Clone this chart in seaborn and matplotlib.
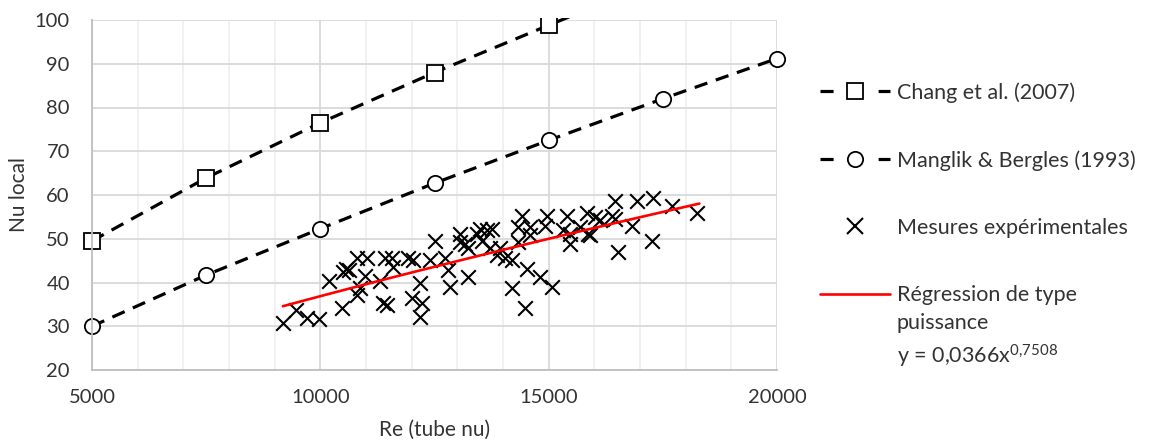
import numpy as np
import matplotlib
matplotlib.use("Agg")
import matplotlib.pyplot as plt
import seaborn as sns
from matplotlib.lines import Line2D
from matplotlib.patches import Rectangle
from matplotlib.ticker import MultipleLocator

# ---------------- data ----------------
chang_re = [5000, 7500, 10000, 12500, 15000, 17500, 20000]
chang_nu = [49.5, 63.9, 76.5, 88.0, 98.8, 109.5, 120.0]

manglik_re = [5000, 7500, 10000, 12500, 15000, 17500, 20000]
manglik_nu = [30.0, 41.7, 52.3, 62.7, 72.5, 82.0, 91.2]

re_exp = [9180, 9470, 9710, 9970, 10190, 10475, 10500, 10560, 10630, 10800,
          11020, 10800, 10870, 10980, 11310, 11370, 11460, 11420, 11570, 11590,
          11920, 12030, 12010, 12180, 12230, 12180, 12400, 12510, 12730, 12800,
          12840, 13060, 13060, 13170, 13230, 13230, 13430, 13540, 13650, 13500,
          13720, 13870, 13760, 14420, 14960, 15400, 15840, 16020, 14330, 14590,
          14920, 15310, 15470, 15690, 15860, 16130, 14330, 14590, 15470, 13940,
          14050, 14200, 14530, 14810, 15070, 14200, 14480, 16450, 16940, 17290,
          17700, 18250, 16390, 16450, 16830, 17260, 16520, 15910]
nu_exp = [30.7, 33.7, 31.8, 31.6, 40.3, 34.1, 42.3, 43.2, 42.8, 45.5,
          45.7, 37.1, 38.7, 41.4, 40.3, 35.3, 34.8, 45.7, 45.7, 43.5,
          45.5, 45.1, 36.4, 39.8, 35.3, 32.1, 45.1, 49.6, 45.7, 42.8,
          38.9, 51.2, 49.2, 48.9, 47.8, 41.2, 51.2, 49.6, 51.9, 52.3,
          47.8, 46.2, 52.3, 55.3, 55.3, 55.3, 55.8, 54.9, 52.6, 52.6,
          53.0, 51.9, 51.2, 52.6, 51.2, 54.2, 49.2, 50.8, 48.9, 48.0,
          45.7, 45.1, 43.2, 41.2, 38.9, 38.7, 34.1, 58.7, 58.7, 59.4,
          57.6, 55.8, 55.3, 54.6, 53.0, 49.6, 46.9, 50.8]

# power-law trend line as printed on the chart: y = 0.0366 x^0.7508
reg_coef = 0.0366
reg_exp = 0.7508
reg_range = [9180, 18300]

labels = ["Chang et al. (2007)", "Manglik & Bergles (1993)",
          "Mesures expérimentales", "Régression de type"]
reg_extra = "puissance\ny = 0,0366x$^{0{,}7508}$"

x_ticks = [5000, 10000, 15000, 20000]
y_ticks = [20, 30, 40, 50, 60, 70, 80, 90, 100]

# ---------------- style ----------------
sns.set_theme(style="white")
plt.rcParams["font.family"] = ["Lato", "DejaVu Sans"]
plt.rcParams["mathtext.default"] = "regular"
TXT = "#333333"
FS_TICK = 14.5
FS_LAB = 15
FS_LEG = 15.5

W, H = 1149, 443
fig = plt.figure(figsize=(W / 100, H / 100), dpi=100)
L, R, T, B = 92, 777, 20, 370
ax = fig.add_axes([L / W, 1 - B / H, (R - L) / W, (B - T) / H])

# clip only at the top/bottom so edge markers are not cut at the left/right
clip_rect = Rectangle((-0.05, -0.05), 1.10, 1.056, transform=ax.transAxes,
                      facecolor="none", edgecolor="none")

dash = (0, (4.2, 2.8))
for xs, ys, mk in [(chang_re, chang_nu, "s"), (manglik_re, manglik_nu, "o")]:
    sns.lineplot(x=xs, y=ys, ax=ax, color="black", lw=2.3,
                 linestyle=dash, marker=mk, markersize=11,
                 markerfacecolor="white", markeredgecolor="black",
                 markeredgewidth=1.3, sort=False)
for ln in ax.get_lines():
    ln.set_clip_path(clip_rect)

sns.scatterplot(x=re_exp, y=nu_exp, ax=ax, marker="x", s=110,
                color="black", linewidth=1.5, zorder=3)
reg_x = np.linspace(reg_range[0], reg_range[1], 50)
reg_y = reg_coef * reg_x ** reg_exp
sns.lineplot(x=reg_x, y=reg_y, ax=ax, color="#ff0000", lw=1.9, zorder=4)

ax.set_xlim(5000, 20000)
ax.set_ylim(20, 100)
ax.set_xticks(x_ticks)
ax.set_yticks(y_ticks)
ax.xaxis.set_minor_locator(MultipleLocator(1000))
ax.set_axisbelow(True)
ax.grid(which="minor", axis="x", color="#f0f0f0", lw=1.3)
ax.grid(which="major", axis="both", color="#d9d9d9", lw=1.3)
for s in ["top", "right"]:
    ax.spines[s].set_visible(False)
for s in ["left", "bottom"]:
    ax.spines[s].set_color("#bfbfbf")
    ax.spines[s].set_linewidth(1.3)
ax.tick_params(axis="both", which="both", length=0, labelsize=FS_TICK,
               labelcolor=TXT)
ax.tick_params(axis="x", pad=14)
ax.tick_params(axis="y", pad=16)

ax.set_xlabel("Re (tube nu)", fontsize=FS_LAB, color=TXT)
ax.set_ylabel("Nu local", fontsize=FS_LAB, color=TXT)
ax.xaxis.set_label_coords(0.5, (B - 420) / (B - T))
ax.yaxis.set_label_coords((29 - L) / (R - L), 0.5)

# ---------------- legend ----------------
leg_dash = (0, (4.1, 5.0))
handles = [
    Line2D([], [], color="black", lw=2.3, linestyle=leg_dash,
           marker="s", markersize=11, markerfacecolor="white",
           markeredgecolor="black", markeredgewidth=1.3),
    Line2D([], [], color="black", lw=2.3, linestyle=leg_dash,
           marker="o", markersize=11, markerfacecolor="white",
           markeredgecolor="black", markeredgewidth=1.3),
    Line2D([], [], color="black", lw=0, marker="x", markersize=11,
           markeredgewidth=1.5),
    Line2D([], [], color="#ff0000", lw=1.9),
]
fs_px = FS_LEG * 100 / 72
leg = fig.legend(handles, labels, loc="upper left",
                 bbox_to_anchor=(820 / W, 1 - 82 / H), frameon=False,
                 borderpad=0, borderaxespad=0, fontsize=FS_LEG,
                 handlelength=70 / fs_px, handletextpad=7 / fs_px,
                 labelspacing=2.2, labelcolor=TXT)

fig.canvas.draw()
bb = leg.get_texts()[3].get_window_extent()
fig.text(bb.x0 / W, (bb.y0 - 8) / H, reg_extra, va="top", ha="left",
         fontsize=FS_LEG, color=TXT, linespacing=1.45)

fig.savefig("out.png", dpi=100)
